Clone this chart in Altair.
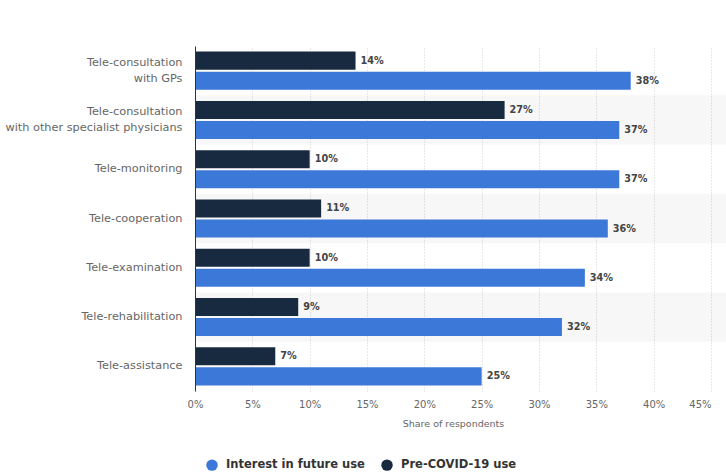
import altair as alt
import pandas as pd

categories = [
    "Tele-consultation with GPs",
    "Tele-consultation with other specialist physicians",
    "Tele-monitoring",
    "Tele-cooperation",
    "Tele-examination",
    "Tele-rehabilitation",
    "Tele-assistance",
]
pre_covid = [14, 27, 10, 11, 10, 9, 7]
future_interest = [38, 37, 37, 36, 34, 32, 25]
series_names = ["Interest in future use", "Pre-COVID-19 use"]
series_colors = ["#3c78d8", "#182a40"]
x_ticks = [0, 5, 10, 15, 20, 25, 30, 35, 40, 45]

rows = []
for c, p, f in zip(categories, pre_covid, future_interest):
    rows.append({"category": c, "series": "Pre-COVID-19 use", "value": p})
    rows.append({"category": c, "series": "Interest in future use", "value": f})
df = pd.DataFrame(rows)
stripes = pd.DataFrame({"category": categories[1::2]})

FONT = "DejaVu Sans"
W, H = 516, 345

y_scale = alt.Scale(domain=categories, paddingInner=0, paddingOuter=0)
y_axis = alt.Axis(
    title=None,
    labelExpr="split(replace(datum.label, ' with', '|with'), '|')",
    labelFont=FONT, labelFontSize=11.3, labelColor="#666666",
    labelPadding=13, ticks=False, domain=True, domainColor="#333333",
    domainWidth=1, labelLineHeight=16, labelLimit=300,
    labelOffset={"condition": {"test": "indexof(datum.value, ' with') >= 0", "value": -8},
                 "value": 0},
)
yoff = alt.YOffset(
    "series:N",
    scale=alt.Scale(domain=["Pre-COVID-19 use", "Interest in future use"],
                    paddingInner=0.1, paddingOuter=0.28),
)
x_enc = alt.X(
    "value:Q",
    scale=alt.Scale(domain=[0, 45], nice=False),
    axis=alt.Axis(
        values=x_ticks, labelExpr="datum.value + '%'",
        title="Share of respondents", grid=True, gridDash=[1, 2],
        gridColor="#d0d0d0", domain=False, ticks=False, labelPadding=8,
        titlePadding=9, titleFontSize=9.5, titleColor="#666666",
        titleFontWeight="normal", titleFont=FONT,
        labelFont=FONT, labelFontSize=10, labelColor="#666666",
        labelAlign={"condition": {"test": "datum.value >= 45", "value": "right"},
                    "value": "center"},
    ),
)

stripe_layer = alt.Chart(stripes).mark_rect(color="#000000", opacity=0.03).encode(
    y=alt.Y("category:N", scale=y_scale, axis=y_axis, sort=categories),
    x=alt.value(0),
    x2=alt.value(W + 15),
)

bars = alt.Chart(df).mark_bar().encode(
    y=alt.Y("category:N", scale=y_scale, axis=y_axis, sort=categories),
    yOffset=yoff,
    x=x_enc,
    color=alt.Color(
        "series:N",
        scale=alt.Scale(domain=series_names, range=series_colors),
        legend=alt.Legend(
            title=None, orient="none", direction="horizontal",
            legendX=11, legendY=413, symbolType="circle", symbolSize=130,
            symbolStrokeWidth=0, labelFont=FONT, labelFontSize=11.5,
            labelFontWeight="bold", labelColor="#333333", labelOffset=8,
            columnPadding=16,
        ),
    ),
)

labels = alt.Chart(df).mark_text(
    align="left", baseline="middle", dx=5, font=FONT, fontSize=9.7,
    fontWeight="bold", color="#444444",
).encode(
    y=alt.Y("category:N", scale=y_scale, axis=y_axis, sort=categories),
    yOffset=yoff,
    x=alt.X("value:Q"),
    text=alt.Text("label:N"),
).transform_calculate(label="datum.value + '%'")

chart = alt.layer(stripe_layer, bars, labels).properties(
    width=W, height=H,
    padding={"left": 195, "top": 46, "right": 15, "bottom": 82},
    autosize=alt.AutoSizeParams(type="none"),
    background="white",
).configure_view(stroke=None)

chart.save("out.html", embed_options={"renderer": "svg", "actions": False})
